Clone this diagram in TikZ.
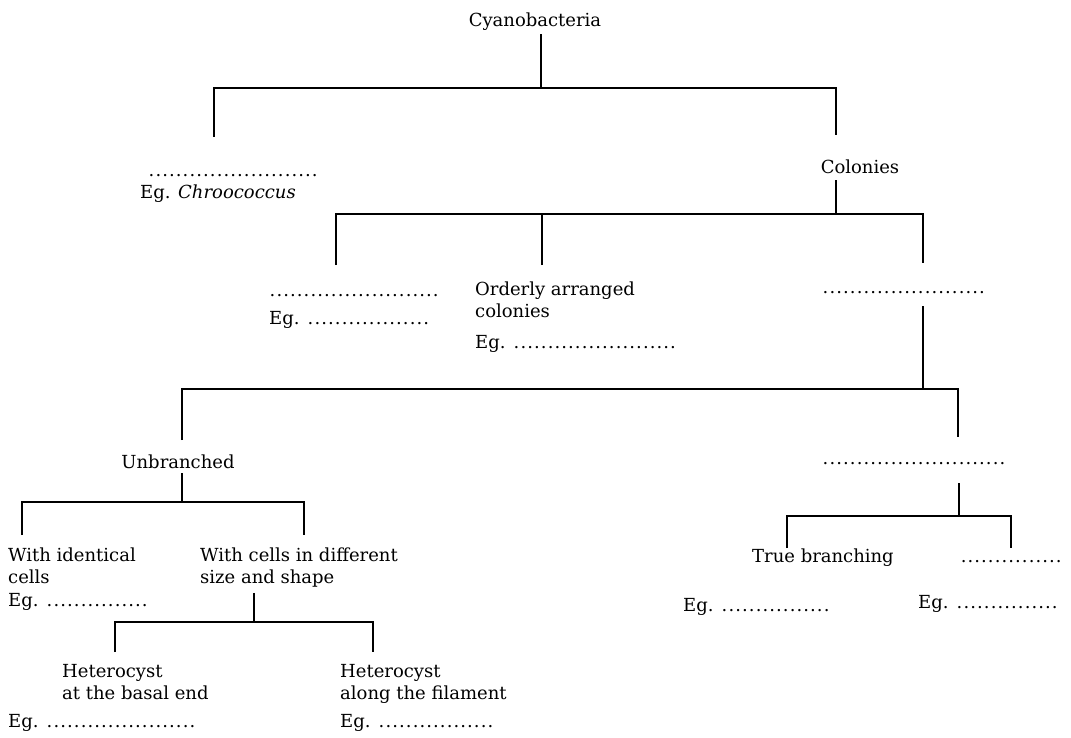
\documentclass[tikz,border=0pt]{standalone}
\usepackage{fontspec}
\setmainfont{DejaVu Serif}
\newcommand{\dotline}[1]{\hbox to #1pt{\leaders\hbox to 6.8pt{\hss.\hss}\hfill}}
\begin{document}
\begin{tikzpicture}[x=1pt,y=-1pt,
    every node/.style={inner sep=0pt, font=\fontsize{18}{22}\selectfont},
    branch/.style={line width=1.8pt}]
  \useasboundingbox (0,0) rectangle (1071,738);

  \node (cyano) at (535,22) {Cyanobacteria};
  \node[anchor=west] (single) at (148,176) {\dotline{170}};
  \node[anchor=west] (egsingle) at (140,194) {Eg. \textit{Chroococcus}};
  \node (colonies) at (860,167) {Colonies};

  \node[anchor=west] (irreg) at (269,296) {\dotline{171}};
  \node[anchor=west] (egirreg) at (269,320) {Eg. \dotline{128}};
  \node[anchor=north west, align=left] (orderly) at (475,282) {Orderly arranged\\colonies};
  \node[anchor=west] (egorderly) at (475,344) {Eg. \dotline{167}};
  \node[anchor=west] (filam) at (822,293) {\dotline{168}};

  \node (unbr) at (178,462) {Unbranched};
  \node[anchor=west] (branched) at (822,464) {\dotline{186}};

  \node[anchor=north west, align=left] (ident) at (8,548) {With identical\\cells};
  \node[anchor=west] (egident) at (8,602) {Eg. \dotline{106}};
  \node[anchor=north west, align=left] (diff) at (200,548) {With cells in different\\size and shape};

  \node[anchor=north west, align=left] (basal) at (62,664) {Heterocyst\\at the basal end};
  \node[anchor=west] (egbasal) at (8,723) {Eg. \dotline{153}};
  \node[anchor=north west, align=left] (along) at (340,664) {Heterocyst\\along the filament};
  \node[anchor=west] (egalong) at (340,723) {Eg. \dotline{120}};

  \node[anchor=west] (true) at (752,558) {True branching};
  \node[anchor=west] (false) at (960,562) {\dotline{108}};
  \node[anchor=west] (egtrue) at (683,607) {Eg. \dotline{113}};
  \node[anchor=west] (egfalse) at (918,604) {Eg. \dotline{108}};

  \coordinate (j1) at (541,88);
  \coordinate (d1a) at (214,137);
  \coordinate (d1b) at (836,135);
  \draw[branch] (cyano.south -| j1) ++(0,3) -- (j1);
  \draw[branch] (d1a) |- (j1) -| (d1b);

  \coordinate (j2) at (836,214);
  \coordinate (d2a) at (336,265);
  \coordinate (d2b) at (542,265);
  \coordinate (d2c) at (923,263);
  \draw[branch] (colonies.south -| j2) ++(0,6) -- (j2);
  \draw[branch] (d2a) |- (j2) -| (d2c);
  \draw[branch] (d2b) -- (d2b |- j2);

  \coordinate (j3) at (923,389);
  \coordinate (d3a) at (182,440);
  \coordinate (d3b) at (958,437);
  \draw[branch] (filam.south -| j3) ++(0,12) -- (j3);
  \draw[branch] (d3a) |- (j3) -| (d3b);

  \coordinate (j4) at (182,502);
  \coordinate (d4a) at (22,535);
  \coordinate (d4b) at (304,535);
  \draw[branch] (unbr.south -| j4) ++(0,4) -- (j4);
  \draw[branch] (d4a) |- (j4) -| (d4b);

  \coordinate (j5) at (254,622);
  \coordinate (d5a) at (115,652);
  \coordinate (d5b) at (373,652);
  \draw[branch] (diff.south -| j5) ++(0,5) -- (j5);
  \draw[branch] (d5a) |- (j5) -| (d5b);

  \coordinate (j6) at (959,516);
  \coordinate (d6a) at (787,548);
  \coordinate (d6b) at (1011,548);
  \draw[branch] (branched.south -| j6) ++(0,18) -- (j6);
  \draw[branch] (d6a) |- (j6) -| (d6b);
\end{tikzpicture}
\end{document}
